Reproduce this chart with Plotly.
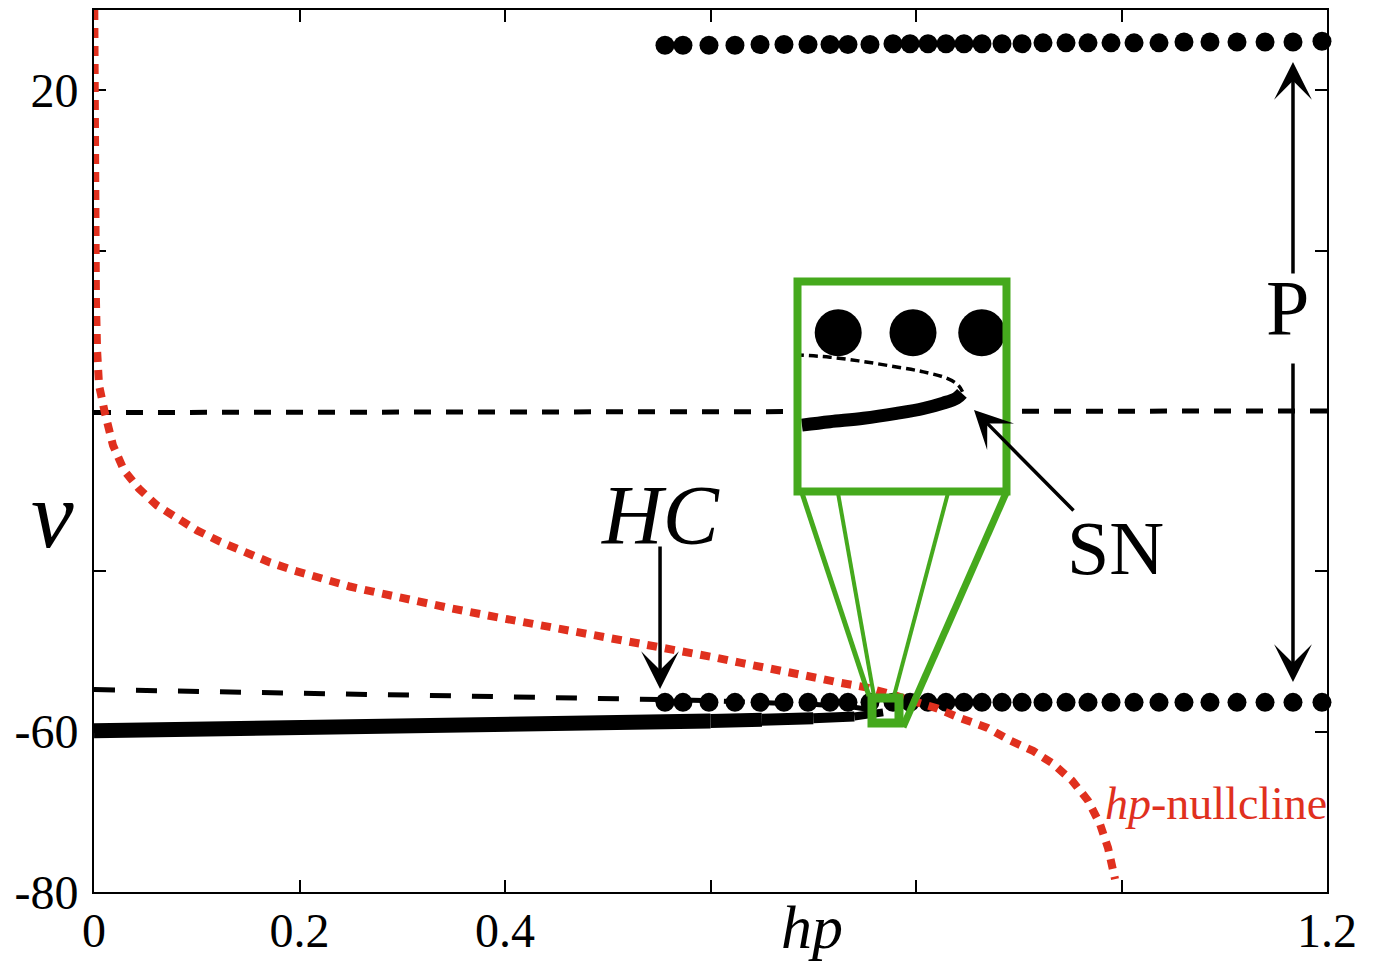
import plotly.graph_objects as go

# ---------------- data ----------------
# periodic orbit (max / min of v) sampled at these hp values
orbit_hp = [0.5557, 0.5732, 0.5985, 0.6238, 0.6482, 0.6715, 0.6949, 0.7163, 0.7338, 0.7552,
            0.7776, 0.7942, 0.8117, 0.8292, 0.8467, 0.8642, 0.8837, 0.9032, 0.9236, 0.9460,
            0.9674, 0.9898, 1.0122, 1.0365, 1.0608, 1.0861, 1.1124, 1.1397, 1.1669, 1.1951]
orbit_vmax = [25.6, 25.6, 25.6, 25.6, 25.7, 25.7, 25.7, 25.7, 25.7, 25.7,
              25.8, 25.8, 25.8, 25.8, 25.8, 25.8, 25.8, 25.8, 25.9, 25.9,
              25.9, 25.9, 25.9, 25.9, 26.0, 26.0, 26.0, 26.0, 26.0, 26.1]
orbit_vmin = [-56.35, -56.35, -56.35, -56.35, -56.35, -56.35, -56.35, -56.35, -56.35, -56.35,
              -56.35, -56.35, -56.35, -56.35, -56.35, -56.35, -56.35, -56.35, -56.35, -56.35,
              -56.35, -56.35, -56.35, -56.35, -56.35, -56.35, -56.35, -56.35, -56.35, -56.35]

# stable (solid) branch of equilibria
stable_hp = [0.0, 0.1, 0.2, 0.3, 0.4, 0.5, 0.6, 0.65, 0.7, 0.74, 0.768]
stable_v = [-59.9, -59.72, -59.55, -59.36, -59.15, -58.92, -58.68, -58.52, -58.34, -58.12, -57.6]

# lower unstable (dashed) branch of equilibria
unstable_lo_hp = [0.0, 0.1, 0.2, 0.3, 0.4, 0.5, 0.55, 0.6, 0.65, 0.7, 0.74, 0.768]
unstable_lo_v = [-54.75, -54.95, -55.18, -55.42, -55.64, -55.86, -56.0, -56.15, -56.35, -56.6, -56.95, -57.5]

# upper unstable (dashed) branch of equilibria
unstable_hi_hp = [0.0, 1.2]
unstable_hi_v = [-20.2, -20.0]

# hp-nullcline
null_hp = [0.0003, 0.0004, 0.0008, 0.0019, 0.003, 0.0049, 0.0107, 0.0185, 0.0292, 0.0438,
           0.0613, 0.0798, 0.1002, 0.1226, 0.147, 0.1713, 0.1946, 0.22, 0.249, 0.2735,
           0.2978, 0.3465, 0.395, 0.43, 0.4564, 0.4827, 0.509, 0.5343, 0.5577, 0.58, 0.6063,
           0.6287, 0.655, 0.6774, 0.7036, 0.726, 0.7523, 0.7747, 0.797, 0.8204, 0.8428,
           0.8691, 0.8915, 0.9139, 0.9333, 0.9518, 0.9674, 0.979, 0.9869, 0.9917, 0.9937]
null_v = [30.0, 18.7, 6.2, -6.2, -12.4, -16.8, -20.3, -24.3, -27.4, -29.7,
          -31.8, -33.4, -34.9, -36.3, -37.7, -38.9, -39.9, -40.9, -41.9, -42.6,
          -43.3, -44.6, -45.8, -46.6, -47.2, -47.8, -48.4, -49.0, -49.5, -50.1, -50.8,
          -51.4, -52.0, -52.6, -53.3, -53.9, -54.5, -55.3, -56.1, -57.1, -58.3,
          -59.5, -61.1, -62.4, -64.0, -66.1, -68.6, -71.5, -74.5, -77.4, -78.4]

# inset (zoom near the saddle-node)
inset_dot_hp = [0.7594, 0.7730, 0.7855]
inset_dot_v = [-55.55, -55.55, -55.55]
inset_unst_hp = [0.7515, 0.7579, 0.7640, 0.7700, 0.7749, 0.7791, 0.7812, 0.7820]
inset_unst_v = [-56.00, -56.05, -56.14, -56.25, -56.35, -56.48, -56.62, -56.76]
inset_stab_hp = [0.7528, 0.7579, 0.7640, 0.7700, 0.7749, 0.7785, 0.7809, 0.7819]
inset_stab_v = [-57.44, -57.37, -57.30, -57.20, -57.10, -56.99, -56.89, -56.79]

x_tickvals = [0, 0.2, 0.4, 0.6, 0.8, 1.0, 1.2]
x_ticktext = ["0", "0.2", "0.4", "", "", "", "1.2"]
y_tickvals = [-80, -60, -40, -20, 0, 20]
y_ticktext = ["-80", "-60", "", "", "", "20"]

# ---------------- styling ----------------
SERIF = "Liberation Serif, Times New Roman, serif"
RED = "#E0301E"
GREEN = "#45A91D"
BLACK = "#000000"

fig = go.Figure()

fig.add_trace(go.Scatter(x=unstable_hi_hp, y=unstable_hi_v, mode="lines",
                         line=dict(color=BLACK, width=5, dash="17px,15px"),
                         hoverinfo="skip", showlegend=False))
fig.add_trace(go.Scatter(x=unstable_lo_hp, y=unstable_lo_v, mode="lines",
                         line=dict(color=BLACK, width=5, dash="21px,21px"),
                         hoverinfo="skip", showlegend=False))

# stable branch drawn in pieces so it thins toward the fold
for i0, i1, w in [(0, 7, 15), (6, 8, 14), (7, 9, 12), (8, 10, 10), (9, 11, 8)]:
    fig.add_trace(go.Scatter(x=stable_hp[i0:i1], y=stable_v[i0:i1], mode="lines",
                             line=dict(color=BLACK, width=w),
                             hoverinfo="skip", showlegend=False))

fig.add_trace(go.Scatter(x=orbit_hp, y=orbit_vmax, mode="markers",
                         marker=dict(color=BLACK, size=19), cliponaxis=False,
                         hoverinfo="skip", showlegend=False))
fig.add_trace(go.Scatter(x=orbit_hp, y=orbit_vmin, mode="markers",
                         marker=dict(color=BLACK, size=19), cliponaxis=False,
                         hoverinfo="skip", showlegend=False))

fig.add_trace(go.Scatter(x=null_hp, y=null_v, mode="lines",
                         line=dict(color=RED, width=8, dash="10px,8px"),
                         hoverinfo="skip", showlegend=False))

# inset traces
fig.add_trace(go.Scatter(x=inset_unst_hp, y=inset_unst_v, mode="lines", line_shape="spline",
                         line=dict(color=BLACK, width=3.5, dash="9px,5px"),
                         xaxis="x2", yaxis="y2", hoverinfo="skip", showlegend=False))
fig.add_trace(go.Scatter(x=inset_stab_hp, y=inset_stab_v, mode="lines", line_shape="spline",
                         line=dict(color=BLACK, width=13),
                         xaxis="x2", yaxis="y2", hoverinfo="skip", showlegend=False))
fig.add_trace(go.Scatter(x=inset_dot_hp, y=inset_dot_v, mode="markers",
                         marker=dict(color=BLACK, size=47),
                         xaxis="x2", yaxis="y2", hoverinfo="skip", showlegend=False))

axis_common = dict(showgrid=False, zeroline=False, showline=True, linewidth=2,
                   linecolor=BLACK, mirror="ticks", ticks="inside", ticklen=12,
                   tickwidth=2, tickcolor=BLACK, layer="below traces", automargin=False,
                   tickfont=dict(family=SERIF, size=48, color=BLACK))

inset_axis = dict(showgrid=False, zeroline=False, showline=False, ticks="",
                  showticklabels=False, fixedrange=True, automargin=False)

fig.update_layout(
    width=1375, height=967,
    margin=dict(l=94, r=48, t=10, b=75, pad=0, autoexpand=False),
    paper_bgcolor="white", plot_bgcolor="#ffffff",
    xaxis=dict(range=[0, 1.2], tickvals=x_tickvals, ticktext=x_ticktext,
               ticklabelstandoff=-5, **axis_common),
    yaxis=dict(range=[-80, 30], tickvals=y_tickvals, ticktext=y_ticktext,
               ticklabelstandoff=4, **axis_common),
    xaxis2=dict(domain=[0.57056, 0.74006], range=[0.752, 0.790], anchor="y2", **inset_axis),
    yaxis2=dict(domain=[0.45408, 0.69218], range=[-58.8, -54.5], anchor="x2", **inset_axis),
)

# inset frame, zoom square and connecting lines
fig.add_shape(type="rect", xref="x2 domain", yref="y2 domain", x0=0, x1=1, y0=0, y1=1,
              line=dict(color=GREEN, width=8), layer="above")
fig.add_shape(type="rect", xref="x", yref="y", x0=0.75718, x1=0.78345, y0=-58.92, y1=-55.80,
              line=dict(color=GREEN, width=9), layer="above")
for (xa, ya, xb, yb, w) in [(0.68905, -30.24, 0.75426, -55.56, 5),
                            (0.72409, -30.24, 0.75912, -55.56, 4),
                            (0.83114, -30.24, 0.77859, -55.56, 4),
                            (0.88759, -30.24, 0.78735, -59.42, 7)]:
    fig.add_shape(type="line", xref="x", yref="y", x0=xa, y0=ya, x1=xb, y1=yb,
                  line=dict(color=GREEN, width=w), layer="above")

# arrows
arrow_common = dict(xref="x", yref="y", axref="x", ayref="y", text="", showarrow=True,
                    arrowhead=3, arrowsize=1.8, arrowwidth=3.5, arrowcolor=BLACK, standoff=0)
fig.add_annotation(x=0.5509, y=-54.68, ax=0.5509, ay=-36.72, **arrow_common)   # HC
fig.add_annotation(x=1.1669, y=23.52, ax=1.1669, ay=-3.05, **arrow_common)     # P up
fig.add_annotation(x=1.1669, y=-53.81, ax=1.1669, ay=-13.90, **arrow_common)   # P down
fig.add_annotation(x=0.85645, y=-19.88, ax=0.95474, ay=-32.61, **arrow_common) # SN

# text labels
txt = dict(showarrow=False, xanchor="center", yanchor="middle")
fig.add_annotation(x=0.5509, y=-33.1, xref="x", yref="y", text="<i>HC</i>",
                   font=dict(family=SERIF, size=84, color=BLACK), **txt)
fig.add_annotation(x=1.16107, y=-7.16, xref="x", yref="y", text="P",
                   font=dict(family=SERIF, size=78, color=BLACK), **txt)
fig.add_annotation(x=0.99367, y=-37.1, xref="x", yref="y", text="SN",
                   font=dict(family=SERIF, size=76, color=BLACK), **txt)
fig.add_annotation(x=1.2, y=-68.9, xref="x", yref="y", xanchor="right", yanchor="middle",
                   text="<i>hp</i>-nullcline", showarrow=False, xshift=2,
                   font=dict(family=SERIF, size=46, color=RED))
fig.add_annotation(x=0.5823, y=-0.0805, xref="paper", yref="paper", text="<i>hp</i>",
                   showarrow=False, xanchor="center", yanchor="bottom",
                   font=dict(family=SERIF, size=62, color=BLACK))
fig.add_annotation(x=-0.03406, y=0.42744, xref="paper", yref="paper", text="<i>v</i>",
                   font=dict(family=SERIF, size=96, color=BLACK), **txt)

fig.write_html("out.html")
